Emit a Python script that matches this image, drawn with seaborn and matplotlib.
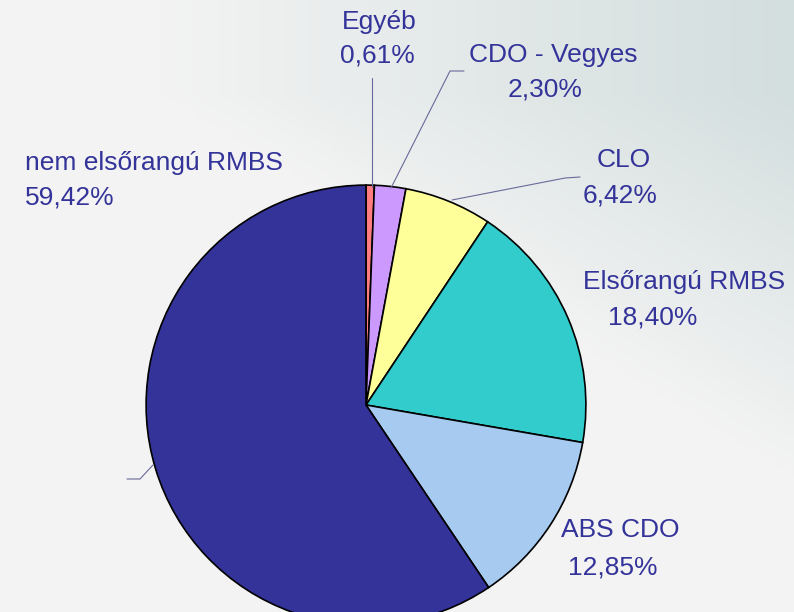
import numpy as np
import matplotlib
matplotlib.use("Agg")
import matplotlib.pyplot as plt
import seaborn as sns

sns.set_theme(style="white")
plt.rcParams['font.family'] = ['Liberation Sans', 'DejaVu Sans']

# data
categories = ['Egyéb', 'CDO - Vegyes', 'CLO', 'Elsőrangú RMBS', 'ABS CDO', 'nem elsőrangú RMBS']
shares = [0.61, 2.30, 6.42, 18.40, 12.85, 59.42]
pct_labels = ['0,61%', '2,30%', '6,42%', '18,40%', '12,85%', '59,42%']
slice_colors = ['#FF7C80', '#CC99FF', '#FFFF99', '#33CCCC', '#A6CAF0', '#333399']

# label layout in pixels (name line, percent line)
name_xy = [(379, 22), (553, 55), (624, 160), (684, 282), (620, 530), (25, 163)]
pct_xy = [(377, 56), (545, 90), (620, 196), (653, 318), (613, 568), (25, 198)]
name_ha = ['center', 'center', 'center', 'center', 'center', 'left']
leaders = [
    [(372, 78), (372, 187)],
    [(464, 71), (450, 71), (391, 188)],
    [(580, 177), (565, 178), (452, 200)],
    [(127, 479), (140, 479), (153, 465)],
]

W, H = 794, 612
text_color = '#333399'
fig = plt.figure(figsize=(W / 100, H / 100), dpi=100)

# background gradient (light grey -> grey-green in the upper right)
bg = fig.add_axes([0, 0, 1, 1])
xx, yy = np.meshgrid(np.linspace(0, 1, 200), np.linspace(0, 1, 160))
t = np.clip((xx - 0.2) * 1.25 - np.maximum(yy - 0.15, 0) * 1.6, 0, 1)
light = np.array([243, 243, 243]) / 255
dark = np.array([211, 222, 222]) / 255
img = light[None, None, :] * (1 - t[..., None]) + dark[None, None, :] * t[..., None]
bg.imshow(img, extent=[0, W, H, 0], aspect='auto')
bg.set_xlim(0, W)
bg.set_ylim(H, 0)
bg.axis('off')

# pie
cx, cy, r = 366, 405, 221
ax = fig.add_axes([(cx - r) / W, (H - cy - r) / H, 2 * r / W, 2 * r / H])
ax.pie(shares, colors=slice_colors, startangle=90, counterclock=False,
       wedgeprops=dict(edgecolor='black', linewidth=1.2))
ax.set_xlim(-1.005, 1.005)
ax.set_ylim(-1.005, 1.005)
ax.set_aspect('equal')
ax.axis('off')

# overlay for labels
ov = fig.add_axes([0, 0, 1, 1], facecolor='none')
ov.set_xlim(0, W)
ov.set_ylim(H, 0)
ov.axis('off')
for name, pct, (nx, ny), (px, py), ha in zip(categories, pct_labels, name_xy, pct_xy, name_ha):
    ov.text(nx, ny, name, ha=ha, va='center', fontsize=19, color=text_color)
    ov.text(px, py, pct, ha=ha, va='center', fontsize=19, color=text_color)
for pts in leaders:
    xs, ys = zip(*pts)
    ov.plot(xs, ys, color='#6a6a9a', linewidth=0.8)

fig.savefig('out.png', dpi=100)
